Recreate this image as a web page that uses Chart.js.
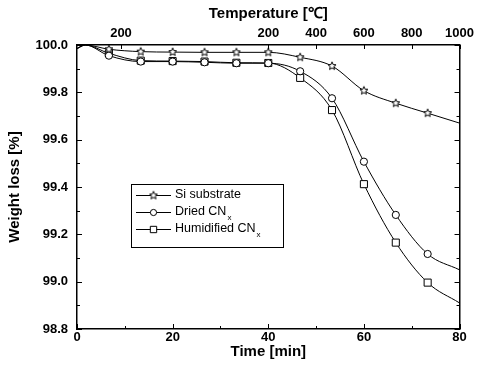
<!DOCTYPE html>
<html>
<head>
<meta charset="utf-8">
<script src="https://cdn.jsdelivr.net/npm/chart.js@4.4.1/dist/chart.umd.min.js"></script>
<style>
  body { margin: 0; background: #fff; }
  canvas { display: block; }
</style>
</head>
<body>
<canvas id="myChart" width="478" height="384"></canvas>
<script>
/*----------------------------- data -----------------------------*/
const timeMin = [0, 1.7, 6.67, 13.33, 20, 26.67, 33.33, 40, 46.67, 53.33, 60, 66.67, 73.33, 80];
const siSubstrate = [99.985, 100.0, 99.982, 99.972, 99.970, 99.969, 99.969, 99.969, 99.948, 99.911, 99.807, 99.754, 99.712, 99.67];
const driedCN = [99.985, 100.0, 99.955, 99.930, 99.930, 99.927, 99.923, 99.923, 99.889, 99.775, 99.507, 99.282, 99.117, 99.05];
const humidCN = [99.985, 100.0, 99.965, 99.934, 99.932, 99.930, 99.925, 99.924, 99.861, 99.725, 99.412, 99.165, 98.996, 98.91];
// 1 = marker drawn at this point
const markerOn = [0, 0, 1, 1, 1, 1, 1, 1, 1, 1, 1, 1, 1, 0];

const seriesNames = ['Si substrate', 'Dried CN', 'Humidified CN'];
const seriesSubs = ['', 'x', 'x'];

const timeTicks = [0, 20, 40, 60, 80];
const weightTicks = [98.8, 99.0, 99.2, 99.4, 99.6, 99.8, 100.0];
// top axis: temperature labels sit at these times
const tempPos = [9.2, 40, 50, 60, 70, 80];
const tempLabels = ['200', '200', '400', '600', '800', '1000'];

const FONT = '"Liberation Sans", Arial, Helvetica, sans-serif';

/*------------------------ star marker ---------------------------*/
function makeStar(r) {
    const s = Math.ceil(r * 2 + 3);
    const c = document.createElement('canvas');
    c.width = s; c.height = s;
    const g = c.getContext('2d');
    g.beginPath();
    for (let i = 0; i < 10; i++) {
        const a = -Math.PI / 2 + i * Math.PI / 5;
        const rr = i % 2 ? r * 0.45 : r;
        g.lineTo(s / 2 + rr * Math.cos(a), s / 2 + rr * Math.sin(a));
    }
    g.closePath();
    g.fillStyle = '#fff';
    g.fill();
    g.strokeStyle = '#000';
    g.lineWidth = 1;
    g.stroke();
    return c;
}
const starImg = makeStar(4.2);
const pointStyles = [starImg, 'circle', 'rect'];
const pointSizes = [4.2, 3.6, 5];

function toPoints(arr) {
    return timeMin.map((t, i) => ({ x: t, y: arr[i] }));
}

const seriesValues = [siSubstrate, driedCN, humidCN];
const datasets = seriesValues.map((vals, k) => ({
    label: seriesNames[k] + seriesSubs[k],
    data: toPoints(vals),
    borderColor: '#000',
    borderWidth: 1,
    cubicInterpolationMode: 'monotone',
    pointStyle: pointStyles[k],
    pointRadius: ctx => markerOn[ctx.dataIndex] ? pointSizes[k] : 0,
    pointBackgroundColor: '#fff',
    pointBorderColor: '#000',
    pointBorderWidth: 1,
    fill: false
}));

/*------------------------ inward ticks --------------------------*/
const inwardTicks = {
    id: 'inwardTicks',
    afterDraw(chart) {
        const c = chart.ctx;
        const a = chart.chartArea;
        const sx = chart.scales.x;
        const sy = chart.scales.y;
        c.save();
        c.strokeStyle = '#000';
        c.lineWidth = 1;
        c.beginPath();
        for (let v = 0; v <= 80; v += 10) {
            const len = v % 20 === 0 ? 5 : 3;
            const px = Math.round(sx.getPixelForValue(v)) + 0.5;
            c.moveTo(px, a.bottom); c.lineTo(px, a.bottom - len);
        }
        tempPos.forEach(v => {
            const px = Math.round(sx.getPixelForValue(v)) + 0.5;
            c.moveTo(px, a.top); c.lineTo(px, a.top + 4);
        });
        for (let i = 0; i <= 12; i++) {
            const v = 98.8 + i * 0.1;
            const len = i % 2 === 0 ? 5 : 3;
            const py = Math.round(sy.getPixelForValue(v)) + 0.5;
            c.moveTo(a.left, py); c.lineTo(a.left + len, py);
            c.moveTo(a.right, py); c.lineTo(a.right - len, py);
        }
        c.stroke();
        c.restore();
    }
};

/*--------------------------- legend -----------------------------*/
const boxLegend = {
    id: 'boxLegend',
    afterDraw(chart) {
        const c = chart.ctx;
        const bx = 131, by = 184, bw = 152, bh = 63;
        c.save();
        c.fillStyle = '#fff';
        c.fillRect(bx, by, bw, bh);
        c.strokeStyle = '#000';
        c.lineWidth = 1;
        c.strokeRect(bx + 0.5, by + 0.5, bw, bh);
        const rows = [195, 212, 229];
        seriesNames.forEach((name, k) => {
            const y = rows[k];
            c.beginPath();
            c.moveTo(136, y + 0.5); c.lineTo(171, y + 0.5);
            c.strokeStyle = '#000';
            c.lineWidth = 1;
            c.stroke();
            c.fillStyle = '#fff';
            c.strokeStyle = '#000';
            Chart.helpers.drawPoint(c, {
                pointStyle: pointStyles[k], radius: pointSizes[k] - 0.5, rotation: 0, borderWidth: 1
            }, 153.5, y + 0.5);
            c.fillStyle = '#000';
            c.font = '12.5px ' + FONT;
            c.textBaseline = 'middle';
            c.textAlign = 'left';
            c.fillText(name, 175, y);
            if (seriesSubs[k]) {
                const w = c.measureText(name).width;
                c.font = '8px ' + FONT;
                c.fillText(seriesSubs[k], 175 + w + 1, y + 6);
            }
        });
        c.restore();
    }
};

/*--------------------------- chart ------------------------------*/
const tickFont = { family: FONT, size: 13, weight: 'bold' };
const titleFont = { family: FONT, size: 15, weight: 'bold' };

const config = {
    type: 'line',
    data: { datasets: datasets },
    options: {
        responsive: false,
        animation: false,
        layout: { padding: 0 },
        plugins: {
            legend: { display: false },
            tooltip: { enabled: false }
        },
        scales: {
            x: {
                type: 'linear',
                position: 'bottom',
                min: 0, max: 80,
                afterBuildTicks: s => { s.ticks = timeTicks.map(v => ({ value: v })); },
                ticks: { font: tickFont, color: '#000', padding: 1, maxRotation: 0, autoSkip: false },
                grid: { display: false, drawTicks: false },
                border: { color: '#000', width: 1.5 },
                title: { display: true, text: 'Time [min]', font: titleFont, color: '#000', padding: { top: 23, bottom: 23 } },
                afterFit: s => { s.height = 55; }
            },
            x2: {
                type: 'linear',
                position: 'top',
                min: 0, max: 80,
                afterBuildTicks: s => { s.ticks = tempPos.map(v => ({ value: v })); },
                ticks: {
                    font: tickFont, color: '#000', padding: 4, maxRotation: 0, autoSkip: false,
                    callback: (v, i) => tempLabels[i]
                },
                grid: { display: false, drawTicks: false },
                border: { color: '#000', width: 1.5 },
                title: { display: true, text: 'Temperature [\u2103]', font: titleFont, color: '#000', padding: { top: 5, bottom: 5 } },
                afterFit: s => { s.height = 45; }
            },
            y: {
                type: 'linear',
                position: 'left',
                min: 98.8, max: 100,
                afterBuildTicks: s => { s.ticks = weightTicks.map(v => ({ value: v })); },
                ticks: { font: tickFont, color: '#000', padding: 9, callback: v => v.toFixed(1) },
                grid: { display: false, drawTicks: false },
                border: { color: '#000', width: 1.5 },
                title: { display: true, text: 'Weight loss [%]', font: titleFont, color: '#000', padding: { top: 6, bottom: 6 } },
                afterFit: s => { s.width = 77; }
            },
            y2: {
                type: 'linear',
                position: 'right',
                min: 98.8, max: 100,
                ticks: { display: false },
                grid: { display: false, drawTicks: false },
                border: { color: '#000', width: 1.5 },
                afterFit: s => { s.width = 14; }
            }
        }
    },
    plugins: [inwardTicks, boxLegend]
};

const myChart = new Chart(document.getElementById('myChart'), config);
</script>
</body>
</html>
